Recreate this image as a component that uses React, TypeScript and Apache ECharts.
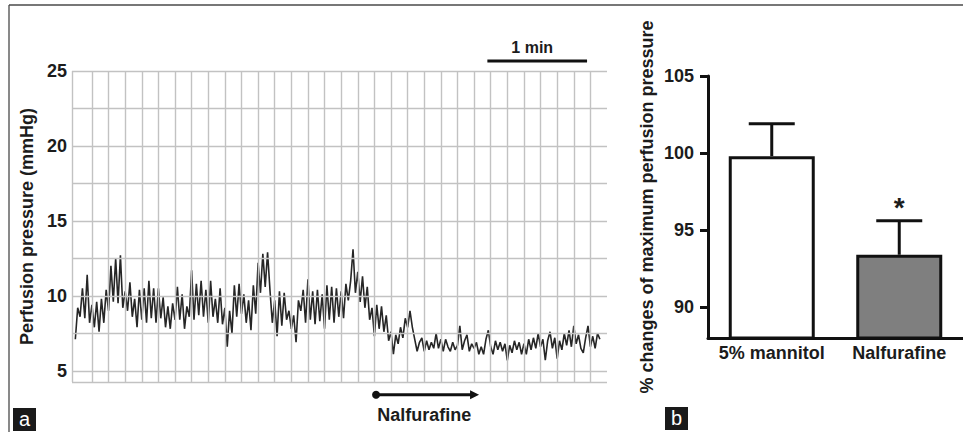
import React, { useEffect, useRef } from "react";
import * as echarts from "echarts";

// ---------- Panel a: perfusion pressure trace ----------
// values (mmHg) sampled every 10/7 s starting at 2 s
const pressure = [
  7.1, 9.2, 8.6, 10.5, 8.5, 11.4, 8.2, 9.4, 7.9, 9.6,
  7.6, 9.8, 8.2, 10.4, 9.0, 12.0, 9.6, 12.5, 9.5, 12.7,
  9.2, 10.3, 9.0, 10.9, 8.6, 9.8, 7.9, 10.4, 8.4, 10.5,
  8.2, 11.0, 8.5, 10.5, 8.2, 10.5, 8.5, 9.9, 7.9, 9.3,
  7.8, 9.5, 8.4, 10.6,
  8.4, 10.1, 7.8, 9.3, 8.6, 11.7, 8.4, 10.8, 8.7, 11.0,
  8.6, 10.4, 8.2, 11.0, 8.6, 9.8, 8.2, 10.5, 8.1, 9.2,
  6.6, 9.0, 7.5, 10.7, 8.6, 10.8, 8.8, 10.1, 8.2, 9.7,
  7.7, 10.7, 8.8, 12.2, 10.2, 12.8, 10.6, 12.9, 10.4, 8.2,
  9.7, 7.3, 10.3, 8.0, 10.2,
  8.4, 9.0, 7.8, 8.7, 6.9, 9.7, 9.0, 10.4, 8.2, 11.1,
  8.4, 10.3, 8.1, 10.4, 8.3, 10.1, 7.8, 10.7, 8.4, 10.6,
  8.2, 10.5, 8.6, 10.3, 8.5, 10.8, 9.7,
  11.0, 13.1, 10.2, 11.6, 9.6, 11.3, 9.2, 10.6, 8.4, 9.2,
  7.3, 9.4, 7.8, 9.3, 7.6, 8.7, 7.0, 7.6, 6.1, 7.4,
  6.8, 7.9, 7.2, 8.5, 7.9, 9.0, 7.9, 7.1, 6.3, 6.9,
  7.2, 6.3, 7.0, 6.4, 6.9, 6.5, 7.5, 6.5, 7.1, 6.3,
  7.1, 6.6, 6.3, 6.9, 6.4, 6.7, 8.0, 6.4, 7.0, 7.4,
  6.3, 6.8, 6.5, 6.9, 6.1, 6.6, 6.1, 7.1, 7.7, 6.6,
  6.1, 7.0, 6.4, 6.9, 6.3, 6.8, 5.7, 6.7, 6.2, 7.0,
  6.4, 6.9, 6.1, 6.8, 6.1, 7.1, 6.4, 7.2, 6.5, 7.5,
  6.6, 7.1, 5.7, 7.0, 7.6, 6.5, 7.2, 5.8, 7.0, 6.4,
  7.5, 6.7, 7.7, 6.6, 8.0, 6.8, 7.4, 6.5, 6.2, 7.2,
  8.0, 6.6, 7.3, 6.5, 7.5, 7.1,
];
const traceStartSec = 2;
const traceStepSec = 10 / 7;
const timeMaxSec = 322;
const pressureMin = 4.25;
const pressureMax = 25;
const leftYTicks = [5, 10, 15, 20, 25];
const hGridValues = [4.25, 5, 7.5, 10, 12.5, 15, 17.5, 20, 22.5, 25];
const vGridSeconds = [
  0, 12, 22, 32, 42, 52, 62, 72, 82, 92, 102, 112, 122, 132, 142, 152,
  162, 172, 182, 192, 202, 212, 222, 232, 242, 252, 262, 272, 282, 292, 302, 312,
];
const scaleBarSec = [250, 310];
const drugStartSec = 183;
const drugEndSec = 245;

// ---------- Panel b: bar chart ----------
const groups = ["5% mannitol", "Nalfurafine"];
const meanPct = [99.8, 93.4];
const semTopPct = [101.9, 95.6];
const significant = [false, true];
const rightYTicks = [90, 95, 100, 105];
const barColors = ["#ffffff", "#7f7f7f"];

const FONT = '"Liberation Sans", Arial, Helvetica, sans-serif';
const INK = "#1c1c1c";

export default function App() {
  const ref = useRef<HTMLDivElement>(null);

  useEffect(() => {
    if (!ref.current) return;
    const chart = echarts.init(ref.current, null, { renderer: "svg" });

    const traceData = pressure.map((v, i) => [traceStartSec + i * traceStepSec, v]);

    const option: any = {
      animation: false,
      backgroundColor: "#ffffff",
      grid: [
        { left: 72, right: 356, top: 71, bottom: 50 },
        { left: 708, right: 0, top: 76, bottom: 94 },
      ],
      xAxis: [
        {
          gridIndex: 0,
          type: "value",
          min: 0,
          max: timeMaxSec,
          axisLine: { show: false },
          axisTick: { show: false },
          axisLabel: { show: false },
          splitLine: { show: false },
        },
        {
          gridIndex: 1,
          type: "category",
          data: groups,
          axisLine: { show: true, lineStyle: { color: "#111", width: 3 } },
          axisTick: { show: false },
          axisLabel: {
            interval: 0,
            hideOverlap: false,
            color: INK,
            fontFamily: FONT,
            fontWeight: "bold",
            fontSize: 18,
            margin: 6,
          },
        },
      ],
      yAxis: [
        {
          gridIndex: 0,
          type: "value",
          min: pressureMin,
          max: pressureMax,
          name: "Perfusion pressure (mmHg)",
          nameLocation: "middle",
          nameRotate: 90,
          nameGap: 36,
          nameTextStyle: { color: INK, fontFamily: FONT, fontWeight: "bold", fontSize: 18 },
          axisLine: { show: false },
          axisTick: { show: false, customValues: leftYTicks },
          axisLabel: {
            customValues: leftYTicks,
            color: INK,
            fontFamily: FONT,
            fontWeight: "bold",
            fontSize: 18,
            margin: 5,
          },
          splitLine: { show: false },
        },
        {
          gridIndex: 1,
          type: "value",
          min: 88,
          max: 105,
          name: "% changes of maximum perfusion pressure",
          nameLocation: "middle",
          nameRotate: 90,
          nameGap: 52,
          nameTextStyle: { color: INK, fontFamily: FONT, fontWeight: "bold", fontSize: 18 },
          axisLine: { show: true, lineStyle: { color: "#111", width: 3 } },
          axisTick: {
            show: true,
            customValues: rightYTicks,
            length: 8,
            lineStyle: { color: "#111", width: 3 },
          },
          axisLabel: {
            customValues: rightYTicks,
            color: INK,
            fontFamily: FONT,
            fontWeight: "bold",
            fontSize: 18,
            margin: 14,
          },
          splitLine: { show: false },
        },
      ],
      series: [
        {
          type: "line",
          xAxisIndex: 0,
          yAxisIndex: 0,
          data: [],
          z: 1,
          silent: true,
          markLine: {
            silent: true,
            symbol: "none",
            label: { show: false },
            lineStyle: { color: "#c2c2c2", width: 1.4, type: "solid" },
            data: [
              ...hGridValues.map((v) => ({ yAxis: v })),
              ...vGridSeconds.map((t) => ({ xAxis: t })),
            ],
          },
        },
        {
          type: "line",
          xAxisIndex: 0,
          yAxisIndex: 0,
          data: traceData,
          showSymbol: false,
          symbol: "none",
          z: 3,
          lineStyle: { color: "#262626", width: 1.6 },
        },
        {
          type: "bar",
          xAxisIndex: 1,
          yAxisIndex: 1,
          barWidth: 86,
          z: 2,
          data: meanPct.map((v, i) => ({
            value: v,
            itemStyle: { color: barColors[i], borderColor: "#111", borderWidth: 3 },
          })),
        },
        {
          type: "custom",
          xAxisIndex: 1,
          yAxisIndex: 1,
          z: 4,
          data: groups.map((g, i) => [i, meanPct[i], semTopPct[i]]),
          renderItem: (params: any, api: any) => {
            const base = api.coord([api.value(0), api.value(1)]);
            const top = api.coord([api.value(0), api.value(2)]);
            const half = 23;
            const children: any[] = [
              {
                type: "line",
                shape: { x1: top[0], y1: base[1], x2: top[0], y2: top[1] },
                style: { stroke: "#111", lineWidth: 3 },
              },
              {
                type: "line",
                shape: { x1: top[0] - half, y1: top[1], x2: top[0] + half, y2: top[1] },
                style: { stroke: "#111", lineWidth: 3 },
              },
            ];
            if (significant[params.dataIndex]) {
              children.push({
                type: "text",
                style: {
                  text: "*",
                  x: top[0],
                  y: top[1] - 13,
                  align: "center",
                  verticalAlign: "middle",
                  font: `bold 28px ${FONT}`,
                  fill: INK,
                },
              });
            }
            return { type: "group", children };
          },
        },
      ],
    };

    chart.setOption(option);

    const px = (t: number, v: number) =>
      chart.convertToPixel({ gridIndex: 0 } as any, [t, v]) as number[];

    const barA = px(scaleBarSec[0], 25.67);
    const barB = px(scaleBarSec[1], 25.67);
    const barText = px((scaleBarSec[0] + scaleBarSec[1]) / 2 - 3, 26.6);
    const dot = px(drugStartSec, 3.4);
    const tip = px(drugEndSec, 3.4);
    const drugText = px((drugStartSec + drugEndSec) / 2 - 2, 2.07);

    chart.setOption({
      graphic: [
        {
          id: "frameTop",
          type: "line",
          shape: { x1: 9, y1: 5, x2: 963, y2: 5 },
          style: { stroke: "#4a4a4a", lineWidth: 1.3 },
          silent: true,
        },
        {
          id: "frameLeft",
          type: "line",
          shape: { x1: 9, y1: 5, x2: 9, y2: 432 },
          style: { stroke: "#4a4a4a", lineWidth: 1.3 },
          silent: true,
        },
        {
          id: "scaleBar",
          type: "line",
          shape: { x1: barA[0], y1: barA[1], x2: barB[0], y2: barB[1] },
          style: { stroke: "#111", lineWidth: 3 },
          silent: true,
        },
        {
          id: "scaleText",
          type: "text",
          x: barText[0],
          y: barText[1],
          style: {
            text: "1 min",
            align: "center",
            verticalAlign: "middle",
            font: `bold 16px ${FONT}`,
            fill: INK,
          },
          silent: true,
        },
        {
          id: "drugDot",
          type: "circle",
          shape: { cx: dot[0], cy: dot[1], r: 4 },
          style: { fill: "#111" },
          silent: true,
        },
        {
          id: "drugLine",
          type: "line",
          shape: { x1: dot[0], y1: dot[1], x2: tip[0] - 7, y2: tip[1] },
          style: { stroke: "#111", lineWidth: 3 },
          silent: true,
        },
        {
          id: "drugHead",
          type: "polygon",
          shape: {
            points: [
              [tip[0], tip[1]],
              [tip[0] - 9, tip[1] - 4.5],
              [tip[0] - 9, tip[1] + 4.5],
            ],
          },
          style: { fill: "#111" },
          silent: true,
        },
        {
          id: "drugText",
          type: "text",
          x: drugText[0],
          y: drugText[1],
          style: {
            text: "Nalfurafine",
            align: "center",
            verticalAlign: "middle",
            font: `bold 18px ${FONT}`,
            fill: INK,
          },
          silent: true,
        },
        {
          id: "labelA",
          type: "group",
          x: 13,
          y: 408,
          children: [
            { type: "rect", shape: { x: 0, y: 0, width: 23, height: 23 }, style: { fill: "#1a1a1a" } },
            {
              type: "text",
              style: {
                text: "a",
                x: 11.5,
                y: 11,
                align: "center",
                verticalAlign: "middle",
                font: `20px ${FONT}`,
                fill: "#ffffff",
              },
            },
          ],
          silent: true,
        },
        {
          id: "labelB",
          type: "group",
          x: 665,
          y: 407,
          children: [
            { type: "rect", shape: { x: 0, y: 0, width: 23, height: 23 }, style: { fill: "#1a1a1a" } },
            {
              type: "text",
              style: {
                text: "b",
                x: 11.5,
                y: 11,
                align: "center",
                verticalAlign: "middle",
                font: `20px ${FONT}`,
                fill: "#ffffff",
              },
            },
          ],
          silent: true,
        },
      ],
    });

    return () => {
      chart.dispose();
    };
  }, []);

  return (
    <div
      ref={ref}
      style={{ position: "fixed", left: 0, top: 0, width: 963, height: 432, background: "#fff" }}
    />
  );
}
